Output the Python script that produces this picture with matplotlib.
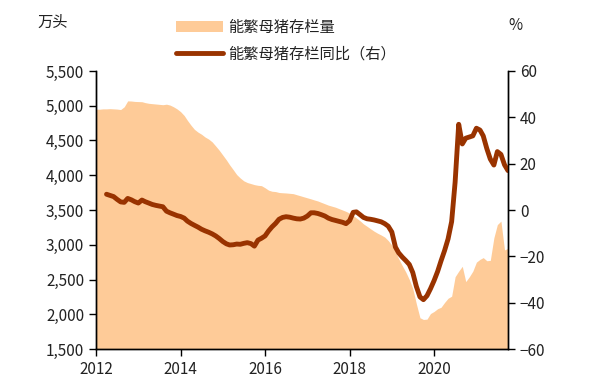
import numpy as np
import pandas as pd
import matplotlib
matplotlib.use('Agg')
import matplotlib.pyplot as plt
import matplotlib.dates as mdates
from matplotlib.patches import Patch
from matplotlib.lines import Line2D
from matplotlib.ticker import FuncFormatter

plt.rcParams['font.family'] = ['Noto Sans CJK SC', 'DejaVu Sans']

# monthly data, Jan 2012 - Oct 2021
months = pd.date_range('2012-01-01', periods=118, freq='MS')

# sow inventory, 10k head
sow_stock = [
    4950, 4950, 4955, 4955, 4958, 4955, 4952, 4945, 4985, 5070, 5068, 5062,
    5060, 5058, 5045, 5035, 5030, 5025, 5020, 5015, 5022, 5010, 4985, 4955,
    4915, 4860, 4790, 4720, 4660, 4620, 4590, 4550, 4520, 4480, 4420, 4360,
    4290, 4220, 4150, 4080, 4010, 3960, 3920, 3895, 3880, 3865, 3855, 3850,
    3820, 3785, 3770, 3765, 3752, 3748, 3745, 3740, 3735, 3720, 3705, 3690,
    3675, 3660, 3645, 3630, 3610, 3590, 3570, 3555, 3540, 3520, 3500, 3480,
    3455, 3420, 3385, 3345, 3300, 3265, 3230, 3195, 3165, 3140, 3110, 3060,
    2995, 2900, 2800, 2700, 2610, 2500, 2370, 2150, 1950, 1925, 1930, 2010,
    2040, 2080, 2100, 2170, 2230, 2260, 2540, 2620, 2690, 2470, 2540, 2620,
    2750, 2790, 2815, 2770, 2775, 3100, 3290, 3340, 2925, 2950,
]

# year-on-year change, %
sow_yoy = [
    np.nan, np.nan, np.nan, 6.8, 6.3, 5.8, 4.6, 3.5, 3.3, 5.0, 4.4, 3.6,
    3.0, 4.3, 3.6, 3.0, 2.4, 2.0, 1.7, 1.4, -0.5, -1.2, -1.8, -2.4,
    -2.8, -3.5, -4.8, -5.8, -6.6, -7.4, -8.3, -9.0, -9.6, -10.3, -11.2, -12.3,
    -13.6, -14.6, -15.1, -15.0, -14.7, -14.8, -14.4, -14.1, -14.5, -15.6, -13.0, -12.2,
    -11.2, -9.0, -7.3, -5.8, -4.0, -3.2, -2.9, -3.1, -3.5, -3.8, -3.9, -3.5,
    -2.6, -1.2, -1.2, -1.5, -2.0, -2.6, -3.5, -4.1, -4.5, -4.9, -5.3, -5.9,
    -4.6, -1.0, -0.8, -2.0, -3.2, -3.8, -4.0, -4.3, -4.7, -5.1, -5.9, -7.0,
    -9.5, -16.0, -18.5, -20.3, -21.8, -23.5, -27.0, -33.0, -37.5, -38.7, -37.0, -34.0,
    -30.5, -26.5, -22.0, -17.5, -12.5, -5.0, 12.0, 37.0, 28.5, 31.0, 31.5, 32.0,
    35.3, 34.5, 32.0, 26.5, 22.0, 19.4, 25.2, 24.0, 19.5, 17.0,
]

label_stock = '能繁母猪存栏量'
label_yoy = '能繁母猪存栏同比（右）'

fill_color = '#FECB98'
line_color = '#993300'

fig = plt.figure(figsize=(5.9, 3.89), dpi=100)
ax = fig.add_axes([0.1627, 0.1028, 0.6983, 0.7147])
ax2 = ax.twinx()

ax.fill_between(months, 1500, sow_stock, color=fill_color, linewidth=0)
ax2.plot(months, sow_yoy, color=line_color, linewidth=3.5, solid_capstyle='round')

ax.set_xlim(months[0], months[-1])
ax.set_ylim(1500, 5500)
ax.set_yticks(np.arange(1500, 5501, 500))
ax.yaxis.set_major_formatter(FuncFormatter(lambda v, p: f'{int(v):,}'))
ax2.set_ylim(-60, 60)
ax2.set_yticks(np.arange(-60, 61, 20))

ax.xaxis.set_major_locator(mdates.YearLocator(2))
ax.xaxis.set_major_formatter(mdates.DateFormatter('%Y'))

for a in (ax, ax2):
    a.spines['top'].set_visible(False)
    for s in ('left', 'right', 'bottom'):
        a.spines[s].set_color('black')
        a.spines[s].set_linewidth(1.0)
    a.tick_params(direction='out', length=5, width=1, colors='black',
                  labelsize=11, labelcolor='#222222')

fig.text(0.09, 0.942, '万头', fontsize=11, ha='center', va='center', color='#222222')
fig.text(0.873, 0.934, '%', fontsize=11, ha='center', va='center', color='#222222')

handles = [Patch(facecolor=fill_color, edgecolor='none'),
           Line2D([0], [0], color=line_color, linewidth=3.5, solid_capstyle='round')]
fig.legend(handles, [label_stock, label_yoy], loc='upper left',
           bbox_to_anchor=(0.298, 0.951), frameon=False, fontsize=11,
           handlelength=3.1, handletextpad=0.35, labelspacing=0.62,
           borderpad=0, borderaxespad=0, labelcolor='#222222')

fig.savefig('out.png', dpi=100)
